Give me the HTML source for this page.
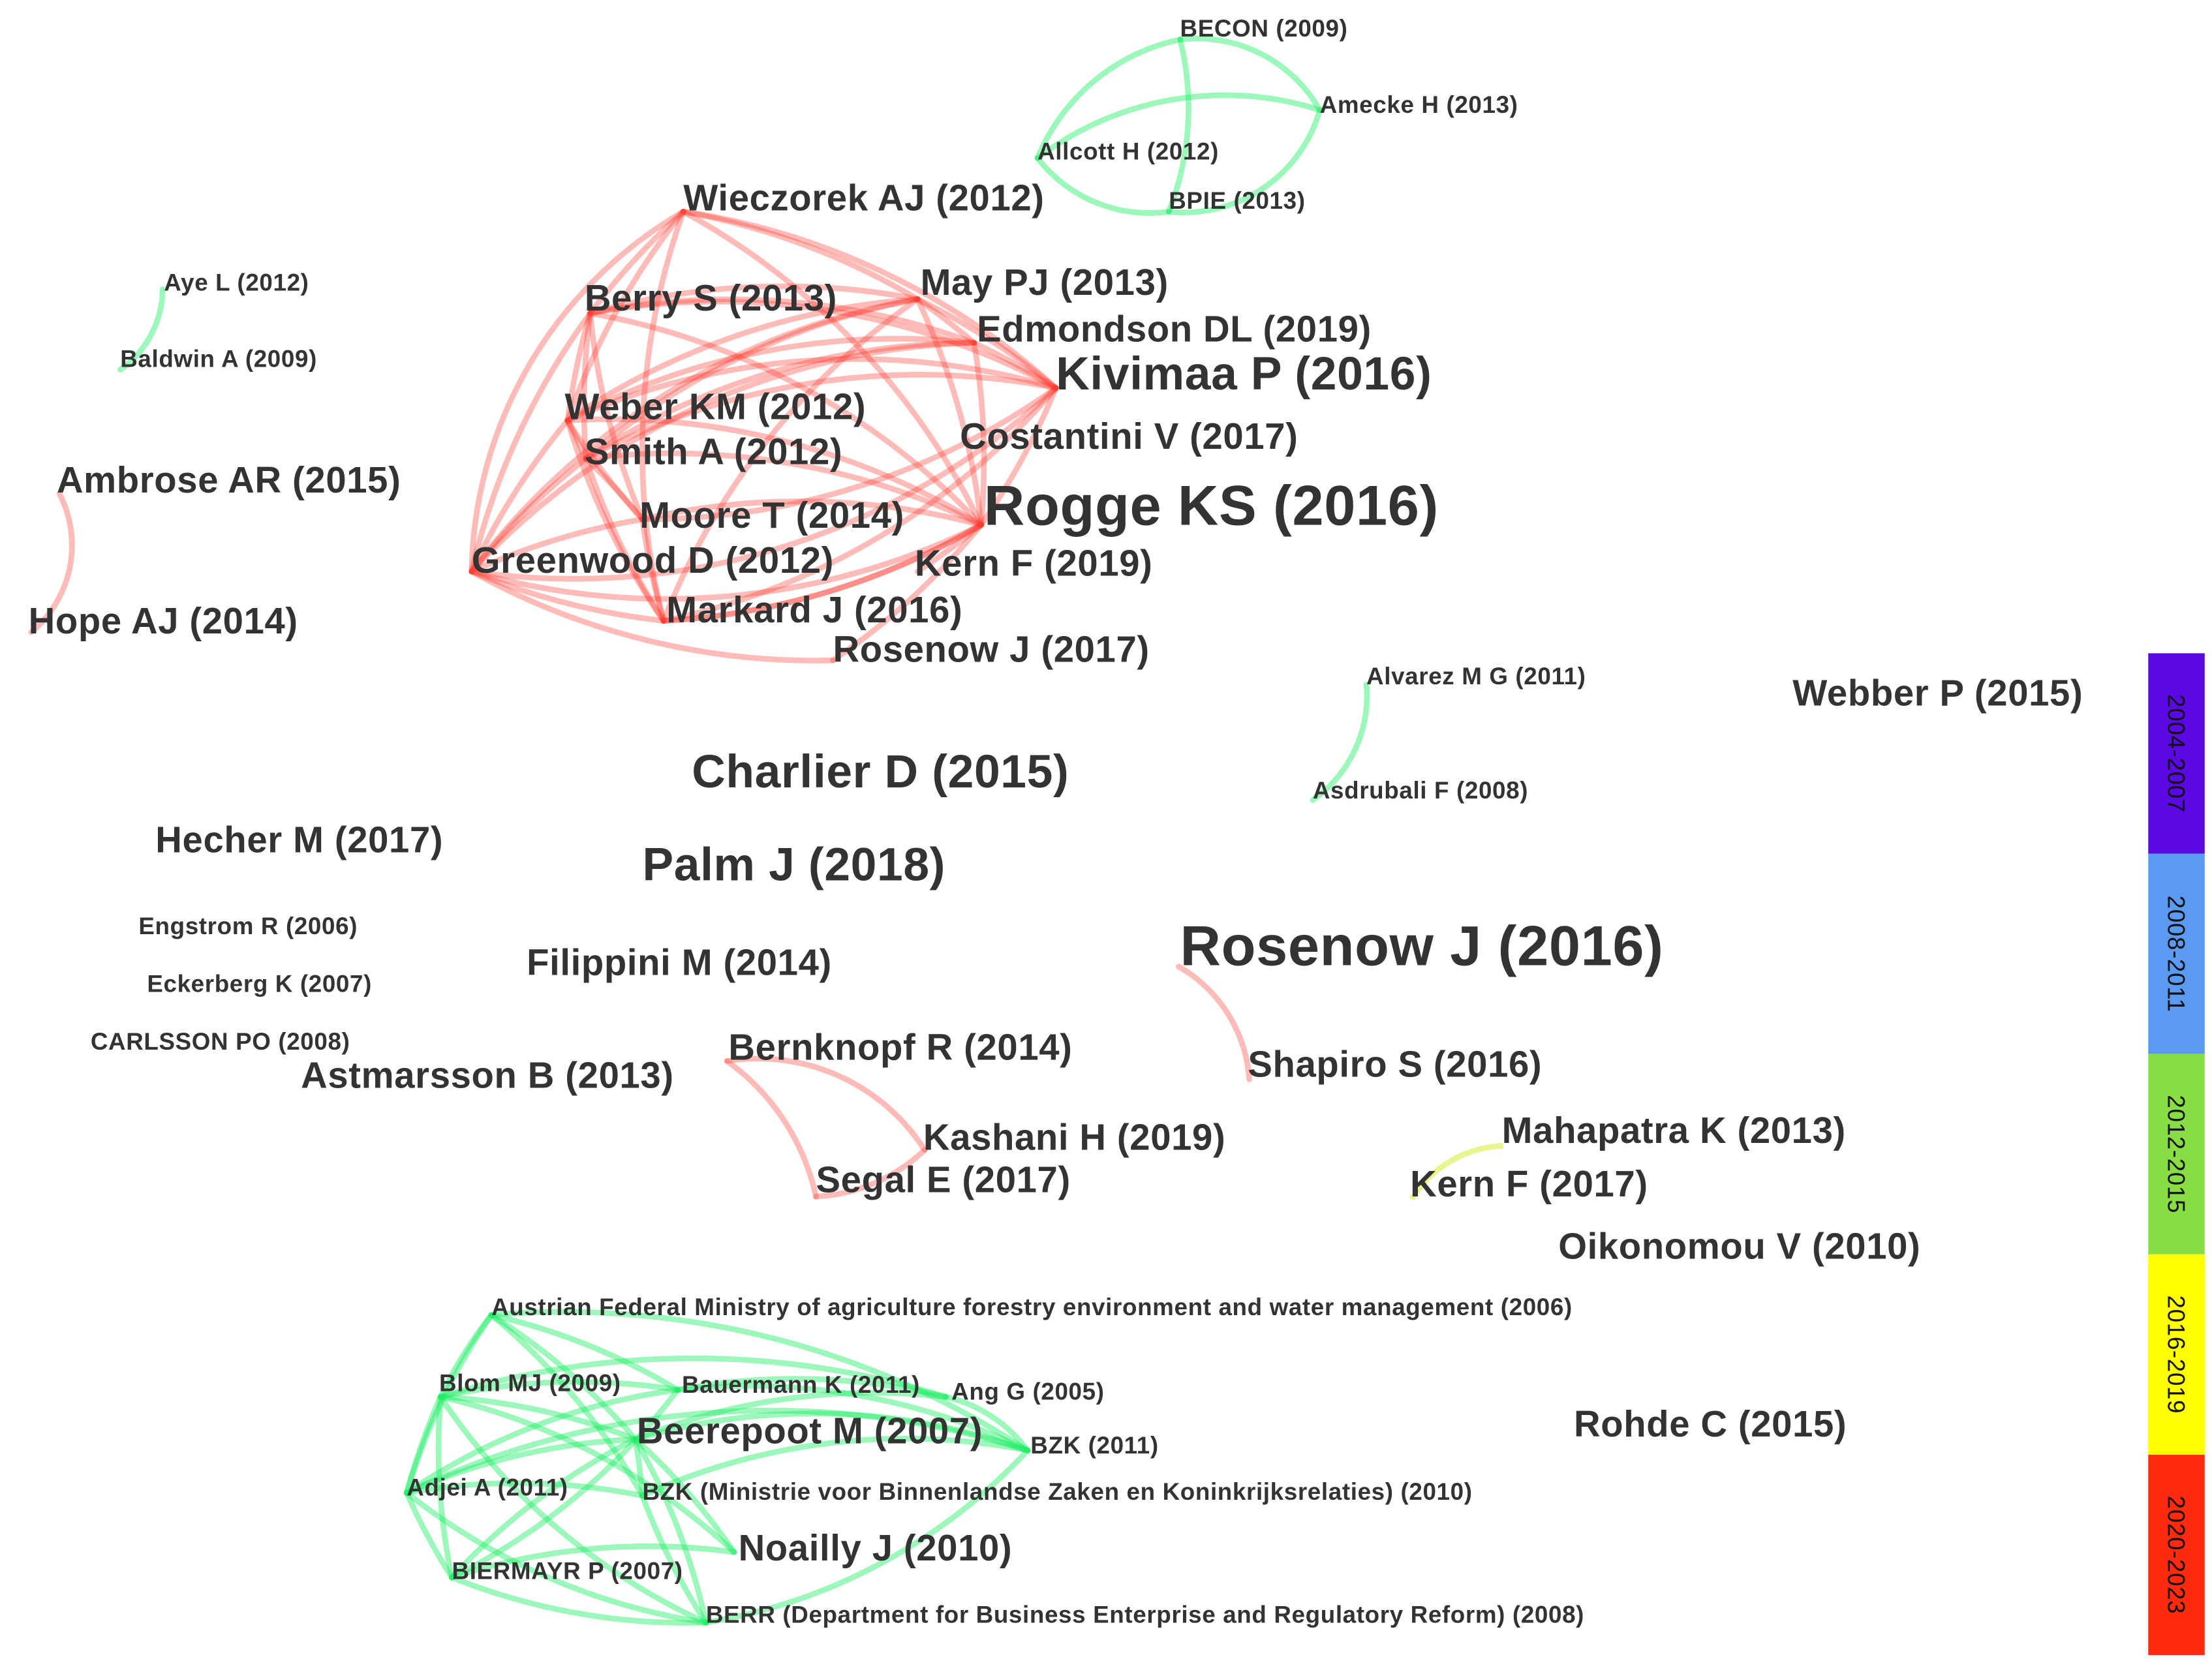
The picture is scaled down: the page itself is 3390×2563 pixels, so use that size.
<!DOCTYPE html>
<html><head><meta charset="utf-8">
<style>
html,body{margin:0;padding:0;background:#fff;}
svg{display:block;}
text{font-family:"Liberation Sans",Arial,sans-serif;font-weight:bold;fill:#333;letter-spacing:0.3px;}
</style></head>
<body>
<svg width="3390" height="2563" viewBox="0 0 1567 1185" xmlns="http://www.w3.org/2000/svg">
<rect width="1567" height="1185" fill="#fff"/>
<g fill="none" stroke="#ff3b30" stroke-opacity="0.35" stroke-width="4" stroke-linecap="round">
<path d="M484 150 A500 500 0 0 0 418 222"/>
<path d="M484 150 A500 500 0 0 1 650 212"/>
<path d="M484 150 A500 500 0 0 1 748 275"/>
<path d="M484 150 A300 300 0 0 0 334 405"/>
<path d="M484 150 A500 500 0 0 0 402 298"/>
<path d="M484 150 A500 500 0 0 1 695 372"/>
<path d="M484 150 A500 500 0 0 0 470 440"/>
<path d="M418 222 A500 500 0 0 1 650 212"/>
<path d="M418 222 A500 500 0 0 1 690 243"/>
<path d="M418 222 A500 500 0 0 1 748 275"/>
<path d="M418 222 A500 500 0 0 0 402 298"/>
<path d="M418 222 A500 500 0 0 0 415 325"/>
<path d="M418 222 A500 500 0 0 0 334 405"/>
<path d="M418 222 A500 500 0 0 0 455 368"/>
<path d="M418 222 A500 500 0 0 1 695 372"/>
<path d="M650 212 A500 500 0 0 1 690 243"/>
<path d="M650 212 A500 500 0 0 1 748 275"/>
<path d="M650 212 A500 500 0 0 0 402 298"/>
<path d="M650 212 A500 500 0 0 0 415 325"/>
<path d="M650 212 A500 500 0 0 1 695 372"/>
<path d="M650 212 A500 500 0 0 0 470 440"/>
<path d="M650 212 A500 500 0 0 0 334 405"/>
<path d="M690 243 A500 500 0 0 1 748 275"/>
<path d="M690 243 A500 500 0 0 0 402 298"/>
<path d="M690 243 A500 500 0 0 0 415 325"/>
<path d="M690 243 A500 500 0 0 1 695 372"/>
<path d="M690 243 A500 500 0 0 0 334 405"/>
<path d="M748 275 A500 500 0 0 0 402 298"/>
<path d="M748 275 A500 500 0 0 0 415 325"/>
<path d="M748 275 A500 500 0 0 1 695 372"/>
<path d="M748 275 A500 500 0 0 1 334 405"/>
<path d="M748 275 A500 500 0 0 1 455 368"/>
<path d="M748 275 A500 500 0 0 1 470 440"/>
<path d="M402 298 A500 500 0 0 1 415 325"/>
<path d="M402 298 A500 500 0 0 0 334 405"/>
<path d="M402 298 A500 500 0 0 0 455 368"/>
<path d="M402 298 A500 500 0 0 1 695 372"/>
<path d="M402 298 A500 500 0 0 0 470 440"/>
<path d="M415 325 A500 500 0 0 0 334 405"/>
<path d="M415 325 A500 500 0 0 1 455 368"/>
<path d="M415 325 A500 500 0 0 1 695 372"/>
<path d="M415 325 A500 500 0 0 0 470 440"/>
<path d="M455 368 A500 500 0 0 1 695 372"/>
<path d="M455 368 A500 500 0 0 0 334 405"/>
<path d="M455 368 A500 500 0 0 0 470 440"/>
<path d="M695 372 A500 500 0 0 1 334 405"/>
<path d="M695 372 A500 500 0 0 1 470 440"/>
<path d="M695 372 A500 500 0 0 1 650 405"/>
<path d="M334 405 A500 500 0 0 0 470 440"/>
<path d="M334 405 A500 500 0 0 0 590 468"/>
<path d="M470 440 A500 500 0 0 0 695 372"/>
<path d="M695 372 A500 500 0 0 1 590 468"/>
<path d="M42 350 A80 80 0 0 1 22 448"/>
<path d="M835 685 A100 100 0 0 1 885 765"/>
<path d="M515 752 A140 140 0 0 1 655 815"/>
<path d="M515 752 A160 160 0 0 1 578 848"/>
<path d="M578 848 A120 120 0 0 0 655 815"/>
</g>
<g fill="none" stroke="#22ee66" stroke-opacity="0.45" stroke-width="4" stroke-linecap="round">
<path d="M836 28 A100 100 0 0 1 935 78"/>
<path d="M836 28 A140 140 0 0 0 735 112"/>
<path d="M836 28 A200 200 0 0 1 828 150"/>
<path d="M935 78 A220 220 0 0 0 735 112"/>
<path d="M935 78 A100 100 0 0 1 828 150"/>
<path d="M735 112 A100 100 0 0 0 828 150"/>
<path d="M115 205 A70 70 0 0 1 85 262"/>
<path d="M968 485 A90 90 0 0 1 930 567"/>
<path d="M348 932 A300 300 0 0 0 312 990"/>
<path d="M348 932 A450 450 0 0 1 480 985"/>
<path d="M348 932 A450 450 0 0 1 450 1020"/>
<path d="M348 932 A450 450 0 0 0 288 1058"/>
<path d="M348 932 A600 600 0 0 1 728 1028"/>
<path d="M348 932 A450 450 0 0 1 455 1060"/>
<path d="M312 990 A450 450 0 0 1 480 985"/>
<path d="M312 990 A600 600 0 0 1 670 990"/>
<path d="M312 990 A450 450 0 0 1 450 1020"/>
<path d="M312 990 A450 450 0 0 0 288 1058"/>
<path d="M312 990 A450 450 0 0 0 320 1118"/>
<path d="M312 990 A450 450 0 0 1 520 1100"/>
<path d="M312 990 A450 450 0 0 0 500 1150"/>
<path d="M480 985 A450 450 0 0 1 728 1028"/>
<path d="M480 985 A450 450 0 0 1 670 990"/>
<path d="M480 985 A450 450 0 0 0 288 1058"/>
<path d="M450 1020 A450 450 0 0 1 728 1028"/>
<path d="M450 1020 A450 450 0 0 1 670 990"/>
<path d="M450 1020 A450 450 0 0 0 288 1058"/>
<path d="M450 1020 A450 450 0 0 1 455 1060"/>
<path d="M450 1020 A450 450 0 0 0 320 1118"/>
<path d="M450 1020 A450 450 0 0 1 520 1100"/>
<path d="M450 1020 A450 450 0 0 1 500 1150"/>
<path d="M288 1058 A600 600 0 0 1 728 1028"/>
<path d="M288 1058 A450 450 0 0 0 320 1118"/>
<path d="M288 1058 A450 450 0 0 0 500 1150"/>
<path d="M288 1058 A450 450 0 0 1 455 1060"/>
<path d="M320 1118 A450 450 0 0 0 500 1150"/>
<path d="M320 1118 A450 450 0 0 1 520 1100"/>
<path d="M320 1118 A450 450 0 0 0 480 985"/>
<path d="M500 1150 A450 450 0 0 1 455 1060"/>
<path d="M500 1150 A400 400 0 0 0 728 1028"/>
<path d="M455 1060 A450 450 0 0 1 728 1028"/>
<path d="M670 990 A100 100 0 0 1 728 1028"/>
</g>
<path d="M1065 812 A80 80 0 0 0 1000 850" fill="none" stroke="#ddee44" stroke-opacity="0.6" stroke-width="4"/>
<g>
<text x="836" y="26" font-size="17">BECON (2009)</text>
<text x="935" y="80" font-size="17">Amecke H (2013)</text>
<text x="735" y="113" font-size="17">Allcott H (2012)</text>
<text x="828" y="148" font-size="17">BPIE (2013)</text>
<text x="484" y="149" font-size="26">Wieczorek AJ (2012)</text>
<text x="116" y="206" font-size="17">Aye L (2012)</text>
<text x="85" y="260" font-size="17">Baldwin A (2009)</text>
<text x="414" y="220" font-size="26">Berry S (2013)</text>
<text x="652" y="209" font-size="26">May PJ (2013)</text>
<text x="692" y="242" font-size="26">Edmondson DL (2019)</text>
<text x="748" y="276" font-size="33">Kivimaa P (2016)</text>
<text x="400" y="297" font-size="26">Weber KM (2012)</text>
<text x="414" y="329" font-size="26">Smith A (2012)</text>
<text x="680" y="318" font-size="26">Costantini V (2017)</text>
<text x="40" y="349" font-size="26">Ambrose AR (2015)</text>
<text x="697" y="372" font-size="40">Rogge KS (2016)</text>
<text x="453" y="374" font-size="26">Moore T (2014)</text>
<text x="334" y="406" font-size="26">Greenwood D (2012)</text>
<text x="648" y="408" font-size="26">Kern F (2019)</text>
<text x="20" y="449" font-size="26">Hope AJ (2014)</text>
<text x="472" y="441" font-size="26">Markard J (2016)</text>
<text x="590" y="469" font-size="26">Rosenow J (2017)</text>
<text x="968" y="485" font-size="17">Alvarez M G (2011)</text>
<text x="1270" y="500" font-size="26">Webber P (2015)</text>
<text x="490" y="558" font-size="33">Charlier D (2015)</text>
<text x="930" y="566" font-size="17">Asdrubali F (2008)</text>
<text x="110" y="604" font-size="26">Hecher M (2017)</text>
<text x="455" y="624" font-size="33">Palm J (2018)</text>
<text x="98" y="662" font-size="17">Engstrom R (2006)</text>
<text x="836" y="684" font-size="40">Rosenow J (2016)</text>
<text x="373" y="691" font-size="26">Filippini M (2014)</text>
<text x="104" y="703" font-size="17">Eckerberg K (2007)</text>
<text x="64" y="744" font-size="17">CARLSSON PO (2008)</text>
<text x="516" y="751" font-size="26">Bernknopf R (2014)</text>
<text x="884" y="763" font-size="26">Shapiro S (2016)</text>
<text x="213" y="771" font-size="26">Astmarsson B (2013)</text>
<text x="1064" y="810" font-size="26">Mahapatra K (2013)</text>
<text x="654" y="815" font-size="26">Kashani H (2019)</text>
<text x="578" y="845" font-size="26">Segal E (2017)</text>
<text x="999" y="848" font-size="26">Kern F (2017)</text>
<text x="1104" y="892" font-size="26">Oikonomou V (2010)</text>
<text x="348" y="932" font-size="17">Austrian Federal Ministry of agriculture forestry environment and water management (2006)</text>
<text x="311" y="986" font-size="17">Blom MJ (2009)</text>
<text x="483" y="987" font-size="17">Bauermann K (2011)</text>
<text x="674" y="992" font-size="17">Ang G (2005)</text>
<text x="1115" y="1018" font-size="26">Rohde C (2015)</text>
<text x="451" y="1023" font-size="26">Beerepoot M (2007)</text>
<text x="730" y="1030" font-size="17">BZK (2011)</text>
<text x="288" y="1060" font-size="17">Adjei A (2011)</text>
<text x="455" y="1063" font-size="17">BZK (Ministrie voor Binnenlandse Zaken en Koninkrijksrelaties) (2010)</text>
<text x="523" y="1106" font-size="26">Noailly J (2010)</text>
<text x="320" y="1119" font-size="17">BIERMAYR P (2007)</text>
<text x="500" y="1150" font-size="17">BERR (Department for Business Enterprise and Regulatory Reform) (2008)</text>
</g>
<rect x="1522" y="463" width="40" height="142" fill="#5a0ae0"/>
<rect x="1522" y="605" width="40" height="142" fill="#5a9af0"/>
<rect x="1522" y="747" width="40" height="142" fill="#88dd44"/>
<rect x="1522" y="889" width="40" height="142" fill="#ffff00"/>
<rect x="1522" y="1031" width="40" height="142" fill="#ff2a10"/>
<g font-size="17">
<text transform="translate(1536,534) rotate(90)" text-anchor="middle" style="font-weight:normal;fill:#111">2004-2007</text>
<text transform="translate(1536,676) rotate(90)" text-anchor="middle" style="font-weight:normal;fill:#111">2008-2011</text>
<text transform="translate(1536,818) rotate(90)" text-anchor="middle" style="font-weight:normal;fill:#111">2012-2015</text>
<text transform="translate(1536,960) rotate(90)" text-anchor="middle" style="font-weight:normal;fill:#111">2016-2019</text>
<text transform="translate(1536,1102) rotate(90)" text-anchor="middle" style="font-weight:normal;fill:#111">2020-2023</text>
</g>
</svg>
</body></html>
